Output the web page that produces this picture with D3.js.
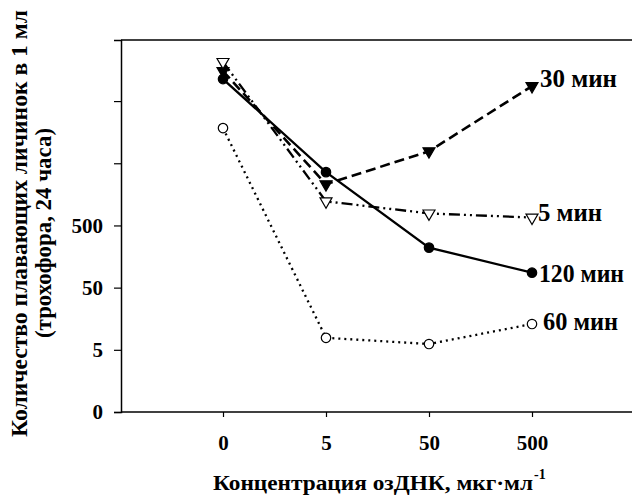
<!DOCTYPE html>
<html>
<head>
<meta charset="utf-8">
<script src="https://cdn.jsdelivr.net/npm/d3@7"></script>
<style>
  body { margin: 0; background: #fff; }
  text { font-family: "Liberation Serif", "Times New Roman", serif; font-weight: bold; fill: #000; }
</style>
</head>
<body>
<div id="chart"></div>
<script>
// concentrations (x categories)
var categories = ["0", "5", "50", "500"];
// y ticks (log scale, "0" drawn at 0.5)
var yTickValues = [0.5, 5, 50, 500, 5000, 50000];
var yTickLabels = ["0", "5", "50", "500", "", ""];

var seriesNames = ["30 мин", "5 мин", "120 мин", "60 мин"];
var values30 = [152000, 2300, 7800, 87000];
var values5 = [213000, 1220, 780, 670];
var values120 = [113000, 3600, 220, 87];
var values60 = [18400, 7.8, 6.2, 13];

var width = 632, height = 495;
var svg = d3.select("#chart").append("svg").attr("width", width).attr("height", height);

var x = d3.scalePoint().domain(categories).range([223, 532]);
var y = d3.scaleLog().domain([0.5, 480000]).range([412, 40]);

// frame
svg.append("line").attr("x1", 121).attr("x2", 640).attr("y1", 40).attr("y2", 40)
  .style("stroke", "#000").style("stroke-width", 1.5);

var yAxis = svg.append("g").attr("transform", "translate(121,0)")
  .call(d3.axisLeft(y).tickValues(yTickValues).tickFormat(function(d, i){ return yTickLabels[i]; }).tickSize(7).tickPadding(11));
var xAxis = svg.append("g").attr("transform", "translate(0,412)")
  .call(d3.axisBottom(x).tickSize(5).tickPadding(18));
xAxis.select(".domain").attr("d", "M121,0H640");

[xAxis, yAxis].forEach(function(a){
  a.selectAll(".domain").style("stroke", "#000").style("stroke-width", 1.5);
  a.selectAll(".tick line").style("stroke", "#000").style("stroke-width", 1.2);
  a.selectAll("text").style("font-size", "21px").style("font-family", "Liberation Serif").style("font-weight", "bold").style("fill", "#000");
});
yAxis.selectAll("text").attr("dy", "0.33em");
xAxis.selectAll("text").attr("dy", "0.71em");

// series
var series = [
  {name: seriesNames[0], values: values30, dash: "10,5", width: 2.6, symbol: d3.symbolTriangle, fill: "#000", rot: 180, labelDx: 8, labelDy: -8, labelW: 77},
  {name: seriesNames[1], values: values5, dash: "11,4,2,4,2,4", width: 2.3, symbol: d3.symbolTriangle, fill: "#fff", rot: 180, labelDx: 6, labelDy: -6, labelW: 64},
  {name: seriesNames[2], values: values120, dash: null, width: 2.3, symbol: d3.symbolCircle, fill: "#000", rot: 0, labelDx: 7, labelDy: 0, labelW: 85},
  {name: seriesNames[3], values: values60, dash: "2,4", width: 2.3, symbol: d3.symbolCircle, fill: "#fff", rot: 0, labelDx: 11, labelDy: -3, labelW: 75}
];

var line = d3.line()
  .x(function(d, i){ return x(categories[i]); })
  .y(function(d){ return y(d); });

series.forEach(function(s){
  svg.append("path")
    .attr("d", line(s.values))
    .style("fill", "none")
    .style("stroke", "#000")
    .style("stroke-width", s.width)
    .style("stroke-dasharray", s.dash);
});

series.forEach(function(s){
  svg.selectAll(null).data(s.values).enter()
    .append("path")
    .attr("d", d3.symbol().type(s.symbol).size(s.symbol === d3.symbolCircle ? 70 : 62))
    .attr("transform", function(d, i){ return "translate(" + x(categories[i]) + "," + y(d) + ") rotate(" + s.rot + ")"; })
    .style("fill", s.fill)
    .style("stroke", "#000")
    .style("stroke-width", 1.2);

  var last = s.values[s.values.length - 1];
  svg.append("text")
    .attr("x", x(categories[categories.length - 1]) + s.labelDx)
    .attr("y", y(last) + s.labelDy)
    .attr("dy", "0.35em")
    .attr("textLength", s.labelW)
    .attr("lengthAdjust", "spacingAndGlyphs")
    .style("font-size", "26px")
    .text(s.name);
});

// axis titles
var xt = svg.append("text").attr("x", 213).attr("y", 490).style("font-size", "20px");
xt.append("tspan").attr("textLength", 320).attr("lengthAdjust", "spacingAndGlyphs").text("Концентрация озДНК, мкг·мл");
xt.append("tspan").attr("dy", -11).attr("dx", 1).style("font-size", "14px").text("-1");

svg.append("text").attr("transform", "translate(27,437) rotate(-90)")
  .attr("textLength", 427).attr("lengthAdjust", "spacingAndGlyphs")
  .style("font-size", "23px").text("Количество плавающих личинок в 1 мл");
svg.append("text").attr("transform", "translate(51,338) rotate(-90)")
  .attr("textLength", 210).attr("lengthAdjust", "spacingAndGlyphs")
  .style("font-size", "23px").text("(трохофора, 24 часа)");
</script>
</body>
</html>
